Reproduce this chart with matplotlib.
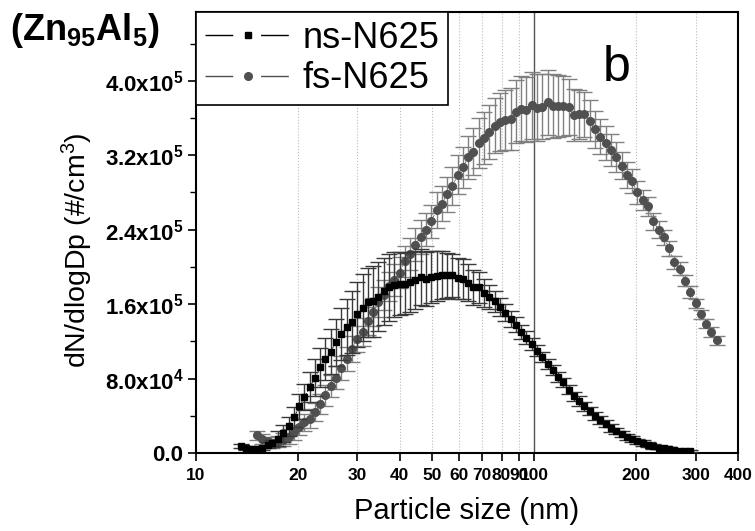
import numpy as np
import matplotlib
matplotlib.use("Agg")
import matplotlib.pyplot as plt
from matplotlib.lines import Line2D
from matplotlib.ticker import FuncFormatter, MultipleLocator

plt.rcParams['font.family'] = ['Liberation Sans', 'DejaVu Sans']
plt.rcParams['mathtext.fontset'] = 'custom'
plt.rcParams['mathtext.rm'] = 'Liberation Sans'
plt.rcParams['mathtext.it'] = 'Liberation Sans:italic'
plt.rcParams['mathtext.bf'] = 'Liberation Sans:bold'

# SMPS size bins (nm)
size_bins = [13.6, 14.1, 14.6, 15.1, 15.7, 16.3, 16.8, 17.5, 18.1, 18.8,
             19.5, 20.2, 20.9, 21.7, 22.5, 23.3, 24.1, 25.0, 25.9, 26.9,
             27.9, 28.9, 30.0, 31.1, 32.2, 33.4, 34.6, 35.9, 37.2, 38.5,
             40.0, 41.4, 42.9, 44.5, 46.1, 47.8, 49.6, 51.4, 53.3, 55.2,
             57.3, 59.4, 61.5, 63.8, 66.1, 68.5, 71.0, 73.7, 76.4, 79.1,
             82.0, 85.1, 88.2, 91.4, 94.7, 98.2, 101.8, 105.5, 109.4, 113.4,
             117.6, 121.9, 126.3, 131.0, 135.8, 140.7, 145.9, 151.2, 156.8, 162.5,
             168.5, 174.7, 181.1, 187.7, 194.6, 201.7, 209.1, 216.7, 224.7, 232.9,
             241.4, 250.3, 259.5, 269.0, 278.8, 289.0, 299.6, 310.6, 322.0, 333.8,
             346.0]

# ns-N625: bins 13.6 .. 289.0, values in 1e3 #/cm3
ns_size = size_bins[:86]
ns_val = [7.5, 5.7, 4.2, 4.0, 5.5, 8.5, 10.5, 15.5, 21, 28.5,
          38.5, 50, 60, 71, 81, 92, 101, 109, 119, 128,
          135, 141, 149, 156, 162, 163, 168, 174, 178, 181,
          182, 182, 184, 186, 189, 187, 189.5, 190, 191, 191,
          191, 188, 187, 183, 178, 178, 172, 168, 163, 157,
          151, 144, 138, 130, 124, 117, 110, 103, 96, 89,
          82, 76, 68, 61, 56, 50, 45, 40, 35.5, 31.5,
          27, 23.5, 20.5, 17, 15, 12.5, 10.5, 8.8, 7, 5.8,
          5, 4, 3.2, 2.5, 2.1, 1.8]
ns_err = [2, 2, 2, 2, 2, 3, 4, 8, 9, 10,
          11, 13, 14, 16, 20, 21, 23, 24, 25, 28,
          30, 33, 35, 36, 37, 38, 37, 36, 36, 35,
          34, 33, 32, 31, 30, 29, 28, 27, 26, 24,
          23, 22, 21, 20, 19, 17, 15, 13, 11, 10,
          9, 8.5, 8, 7.5, 7, 6.5, 6, 5.5, 5.5, 5.5,
          5.5, 5, 5, 5, 5, 4.5, 4.5, 4.5, 4, 4,
          4, 3.5, 3.5, 3.5, 3, 3, 3, 2.5, 2.5, 2,
          2, 2, 1.5, 1.5, 1, 1]

# fs-N625: bins 15.1 .. 346.0
fs_size = size_bins[3:]
fs_val = [19, 15, 12.5, 10.5, 12, 14.5, 17.5, 22.5, 28, 33,
          37, 44, 52.5, 62, 72, 81, 91, 101, 112, 123,
          130, 142, 152, 162, 170, 179, 186, 194, 206, 214,
          224, 232, 240, 249, 261, 268, 278, 287, 299, 307,
          318, 324, 333, 339, 345, 352, 356, 358, 359, 367,
          370, 369, 374, 371, 372, 377, 373, 373, 373, 372,
          363, 364, 364, 357, 348, 340, 333, 326, 318, 309,
          299, 292, 280, 272, 265, 249, 240, 232, 220, 205,
          198, 185, 173, 161, 149, 139, 130, 121]
fs_err = [5, 5, 5, 5, 6, 7, 8, 8, 9, 9,
          10, 10, 11, 11, 12, 12, 13, 13, 14, 14,
          15, 15, 15, 16, 16, 16, 17, 17, 17, 17,
          18, 18, 18, 18, 19, 19, 19, 20, 21, 22,
          23, 25, 27, 28, 29, 30, 31, 32, 33, 34,
          35, 35, 36, 36, 35, 35, 34, 33, 32, 30,
          28, 26, 24, 22, 20, 19, 18, 17, 16, 15,
          14, 13, 12, 11, 10, 9, 9, 8, 8, 7,
          7, 6, 6, 5, 5, 5, 5, 5]

x_ticks = [10, 20, 30, 40, 50, 60, 70, 80, 90, 100, 200, 300, 400]

fig = plt.figure(figsize=(7.55, 5.31), dpi=100)
ax = fig.add_axes([0.2596, 0.1469, 0.7179, 0.8305])

scale = 1e3
fs_y = np.array(fs_val) * scale
ns_y = np.array(ns_val) * scale

# fs first, ns on top
l, caps, bars = ax.errorbar(fs_size, fs_y, yerr=np.array(fs_err) * scale,
                            fmt='o', color='#505050', ms=5.5, ecolor='#808080',
                            elinewidth=1.0, capsize=5.5, capthick=1.0, zorder=3)
for c in caps:
    c.set_color('#404040')
ax.plot(fs_size, fs_y, color='#606060', lw=0.6, ls=(0, (3, 2)), zorder=2)

l, caps, bars = ax.errorbar(ns_size, ns_y, yerr=np.array(ns_err) * scale,
                            fmt='s', color='black', ms=5, ecolor='#3a3a3a',
                            elinewidth=1.0, capsize=5.5, capthick=1.0, zorder=4)
for c in caps:
    c.set_color('black')
ax.plot(ns_size, ns_y, color='black', lw=0.6, ls=(0, (3, 2)), zorder=2)

ax.set_xscale('log')
ax.set_xlim(10, 400)
ax.set_ylim(0, 4.74e5)

# grid lines at tick positions
for t in x_ticks[1:-1]:
    if t == 100:
        ax.axvline(t, color='#555555', lw=1.0, zorder=1)
    else:
        ax.axvline(t, color='#bbbbbb', lw=0.8, ls=':', zorder=1)

ax.set_xticks(x_ticks)
ax.set_xticklabels([str(t) for t in x_ticks], fontsize=12.5, fontweight='bold')
ax.xaxis.set_minor_locator(matplotlib.ticker.NullLocator())
ax.tick_params(axis='x', direction='out', length=6, width=1.2, pad=5)

ax.yaxis.set_major_locator(MultipleLocator(8e4))
ax.yaxis.set_minor_locator(MultipleLocator(4e4))


def yfmt(v, pos):
    if abs(v) < 1:
        return '0.0'
    if v < 0:
        return ''
    e = int(np.floor(np.log10(v)))
    m = v / 10 ** e
    return f'{m:.1f}x10$^{{\\mathbf{{{e}}}}}$'


ax.yaxis.set_major_formatter(FuncFormatter(yfmt))
ax.tick_params(axis='y', which='major', direction='out', length=6, width=1.2,
               labelsize=16, pad=3)
ax.tick_params(axis='y', which='minor', direction='out', length=4, width=1.0)
for lab in ax.get_yticklabels():
    lab.set_fontweight('bold')

for s in ax.spines.values():
    s.set_linewidth(1.5)

ax.set_xlabel('Particle size (nm)', fontsize=21, labelpad=10)
ax.set_ylabel('dN/dlogDp (#/cm$^3$)', fontsize=20.5)
ax.yaxis.set_label_coords(-0.186, 0.46)

handles = [Line2D([], [], color='black', marker='s', ms=5, lw=1.0,
                  ls=(0, (20, 20))),
           Line2D([], [], color='#505050', marker='o', ms=5.5, lw=1.0,
                  ls=(0, (20, 20)))]
leg = ax.legend(handles, ['ns-N625', 'fs-N625'], loc='upper left',
                fontsize=26, frameon=True, fancybox=False, borderaxespad=0,
                handlelength=2.4, handletextpad=0.3, labelspacing=0.15,
                borderpad=0.25, framealpha=1)
leg.get_frame().set_edgecolor('black')
leg.get_frame().set_linewidth(1.2)

ax.text(0.777, 0.873, 'b', transform=ax.transAxes, fontsize=36,
        ha='center', va='center')
fig.text(0.013, 0.9435, r'(Zn$_{\mathbf{95}}$Al$_{\mathbf{5}}$)', fontsize=26,
         fontweight='bold', ha='left', va='center')

fig.savefig('out.png', dpi=100)
